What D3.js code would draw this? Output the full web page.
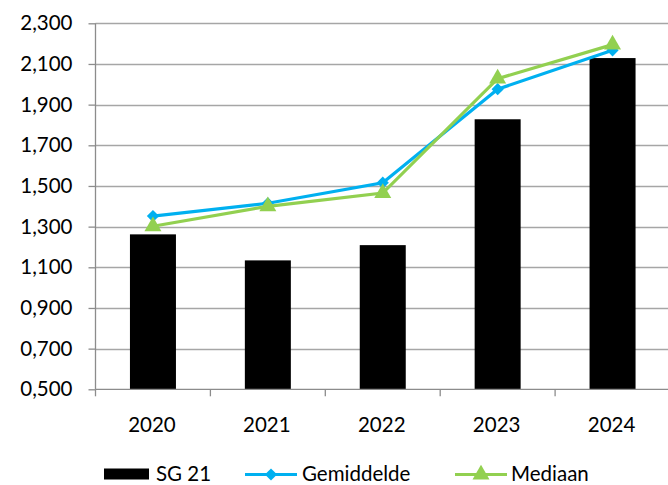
<!DOCTYPE html>
<html><head><meta charset="utf-8">
<script src="https://cdn.jsdelivr.net/npm/d3@7"></script>
<style>body{margin:0;background:#fff}svg{display:block}text{font-family:Lato,"Open Sans",sans-serif;fill:#000}</style>
</head><body>
<script>
const categories = ["2020","2021","2022","2023","2024"];
const sg21 = [1.262, 1.134, 1.209, 1.828, 2.129];
const gemiddelde = [1.352, 1.415, 1.516, 1.976, 2.167];
const mediaan = [1.302, 1.400, 1.465, 2.028, 2.195];
const yTicks = [0.5,0.7,0.9,1.1,1.3,1.5,1.7,1.9,2.1,2.3];
const seriesNames = ["SG 21","Gemiddelde","Mediaan"];

const W=668,H=485, FS=20.5;
const svg=d3.select("body").append("svg").attr("width",W).attr("height",H);
const xb=d3.scaleBand().domain(categories).range([95.5,670]);
const y=d3.scaleLinear().domain([0.5,2.3]).range([389.3,23.3]);
const fmt=v=>d3.format(".3f")(v).replace(".",",");

// gridlines
svg.append("g").selectAll("line").data(yTicks.slice(1)).join("line")
 .attr("x1",95.5).attr("x2",670).attr("y1",d=>Math.round(y(d))+0.5).attr("y2",d=>Math.round(y(d))+0.5)
 .attr("stroke","#a6a6a6").attr("stroke-width",1.3);

// bars
svg.append("g").selectAll("rect").data(sg21).join("rect")
 .attr("x",(d,i)=>xb(categories[i])+xb.bandwidth()/2-23).attr("width",46)
 .attr("y",d=>y(d)).attr("height",d=>y(0.5)-y(d)).attr("fill","#000");

// y axis
const ya=svg.append("g").attr("transform","translate(95.5,0)")
 .call(d3.axisLeft(y).tickValues(yTicks).tickFormat(fmt).tickSize(7).tickPadding(16));
ya.select(".domain").attr("stroke","#8c8c8c").attr("stroke-width",1.3).attr("d","M0,23.3V389.3");
ya.selectAll(".tick line").attr("stroke","#8c8c8c").attr("stroke-width",1.3);
ya.selectAll(".tick text").attr("font-size",FS).attr("font-family","Lato,sans-serif").attr("fill","#000");

// x axis
const xa=svg.append("g").attr("transform","translate(0,389.3)");
xa.append("line").attr("x1",95.5).attr("x2",670).attr("stroke","#8c8c8c").attr("stroke-width",1.3);
const bounds=categories.map(c=>xb(c)).concat([xb(categories[4])+xb.bandwidth()]);
xa.selectAll(".tk").data(bounds).join("line").attr("class","tk")
 .attr("x1",d=>d).attr("x2",d=>d).attr("y1",0).attr("y2",7).attr("stroke","#8c8c8c").attr("stroke-width",1.3);
xa.selectAll("text").data(categories).join("text")
 .attr("x",d=>xb(d)+xb.bandwidth()/2-1).attr("y",43).attr("text-anchor","middle").attr("font-size",FS).text(d=>d);

// lines
function drawLine(data,color,sym,size){
  const line=d3.line().x((d,i)=>xb(categories[i])+xb.bandwidth()/2).y(d=>y(d));
  svg.append("path").datum(data).attr("d",line).attr("fill","none").attr("stroke",color).attr("stroke-width",3.2);
  svg.append("g").selectAll("path").data(data).join("path")
   .attr("transform",(d,i)=>`translate(${xb(categories[i])+xb.bandwidth()/2},${y(d)})`)
   .attr("d",d3.symbol(sym,size)).attr("fill",color);
}
drawLine(gemiddelde,"#00b0f0",d3.symbolDiamond2,95);
drawLine(mediaan,"#92d050",d3.symbolTriangle,125);

// legend
const lg=svg.append("g");
const ly=474.5;
lg.append("rect").attr("x",104).attr("y",ly-6).attr("width",45).attr("height",11).attr("fill","#000");
lg.append("text").attr("x",156).attr("y",ly+6.5).attr("font-size",FS).text(seriesNames[0]);
lg.append("line").attr("x1",245).attr("x2",297).attr("y1",ly).attr("y2",ly).attr("stroke","#00b0f0").attr("stroke-width",3.2);
lg.append("path").attr("transform",`translate(271,${ly})`).attr("d",d3.symbol(d3.symbolDiamond2,95)).attr("fill","#00b0f0");
lg.append("text").attr("x",302).attr("y",ly+6.5).attr("font-size",FS).text(seriesNames[1]);
lg.append("line").attr("x1",455).attr("x2",507).attr("y1",ly).attr("y2",ly).attr("stroke","#92d050").attr("stroke-width",3.2);
lg.append("path").attr("transform",`translate(481,${ly})`).attr("d",d3.symbol(d3.symbolTriangle,125)).attr("fill","#92d050");
lg.append("text").attr("x",511).attr("y",ly+6.5).attr("font-size",FS).text(seriesNames[2]);
</script>
</body></html>
